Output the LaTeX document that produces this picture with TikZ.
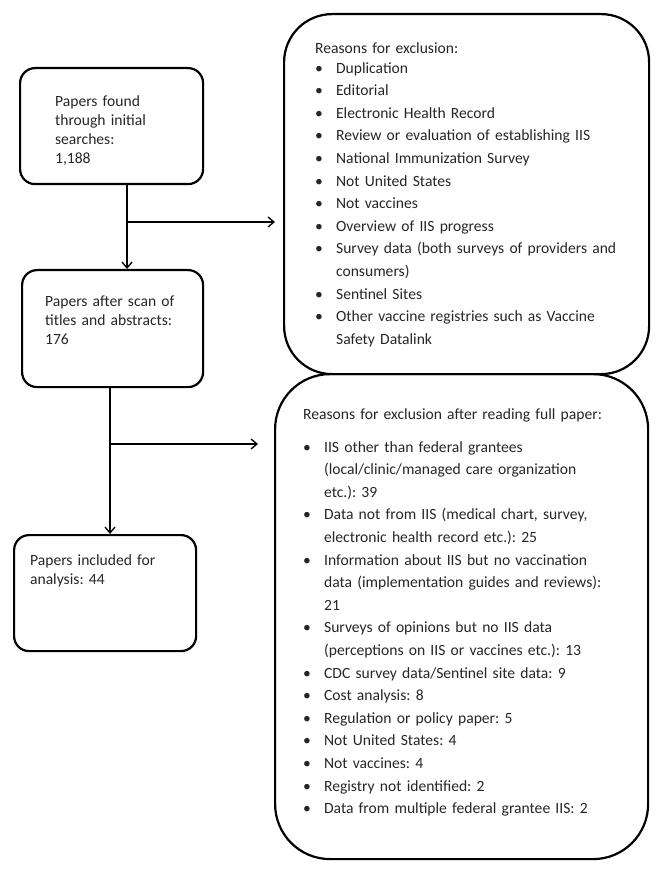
\documentclass[tikz,border=0pt]{standalone}
\usepackage{fontspec}
\setmainfont{Carlito}
\usetikzlibrary{arrows.meta,positioning}
\frenchspacing
\newcommand{\exbullet}{\makebox[21pt][l]{\textbullet}}
\newcommand{\exindent}{\hspace*{21pt}}

\begin{document}
\begin{tikzpicture}[
x=1pt, y=1pt,
flowbox/.style={draw=black, line width=2.2pt, rounded corners=15pt, anchor=north west, align=left, text=black!85, font=\fontsize{15.6}{19}\selectfont, text height=12pt},
listbox/.style={draw=black, line width=2.2pt, anchor=north west, align=left, text=black!85, font=\fontsize{15.6}{22.6}\selectfont, text height=12pt},
arrow/.style={-{Straight Barb[length=6pt,width=10pt]}, line width=1.3pt, draw=black}
]
\useasboundingbox (0,0) rectangle (662,-874);
\node[flowbox, text width=113pt, inner xsep=35pt, inner ysep=26pt, text depth=52pt] (found) at (19,-67) {Papers found\\through initial\\searches:\\1,188};
\node[flowbox, text width=135pt, inner xsep=23pt, inner ysep=24pt, text depth=57pt] (scan) at (21,-269) {Papers after scan of\\titles and abstracts:\\176};
\node[flowbox, text width=150pt, inner xsep=16pt, inner ysep=18pt, text depth=68pt] (incl) at (13,-534) {Papers included for\\analysis: 44};
\node[listbox, rounded corners=48pt, text width=303pt, inner xsep=31pt, inner ysep=27pt, text depth=294pt] (reasons1) at (283,-13) {Reasons for exclusion:\\[-2.6pt]
\exbullet Duplication\\
\exbullet Editorial\\
\exbullet Electronic Health Record\\
\exbullet Review or evaluation of establishing IIS\\
\exbullet National Immunization Survey\\
\exbullet Not United States\\
\exbullet Not vaccines\\
\exbullet Overview of IIS progress\\
\exbullet Survey data (both surveys of providers and\\
\exindent consumers)\\
\exbullet Sentinel Sites\\
\exbullet Other vaccine registries such as Vaccine\\
\exindent Safety Datalink};
\node[listbox, rounded corners=55pt, text width=317pt, inner xsep=28pt, inner ysep=33pt, text depth=407pt] (reasons2) at (274,-373) {Reasons for exclusion after reading full paper:\\[10.4pt]
\exbullet IIS other than federal grantees\\
\exindent (local/clinic/managed care organization\\
\exindent etc.): 39\\
\exbullet Data not from IIS (medical chart, survey,\\
\exindent electronic health record etc.): 25\\
\exbullet Information about IIS but no vaccination\\
\exindent data (implementation guides and reviews):\\
\exindent 21\\
\exbullet Surveys of opinions but no IIS data\\
\exindent (perceptions on IIS or vaccines etc.): 13\\
\exbullet CDC survey data/Sentinel site data: 9\\
\exbullet Cost analysis: 8\\
\exbullet Regulation or policy paper: 5\\
\exbullet Not United States: 4\\
\exbullet Not vaccines: 4\\
\exbullet Registry not identified: 2\\
\exbullet Data from multiple federal grantee IIS: 2};
\coordinate (split1) at (127,-222);
\coordinate (split2) at (110,-444);
\draw[arrow] (split1 |- found.south) -- (split1 |- scan.north);
\draw[arrow] (split1) -- ([xshift=-8pt]split1 -| reasons1.west);
\draw[arrow] (split2 |- scan.south) -- (split2 |- incl.north);
\draw[arrow] (split2) -- ([xshift=-16pt]split2 -| reasons2.west);
\end{tikzpicture}
\end{document}
